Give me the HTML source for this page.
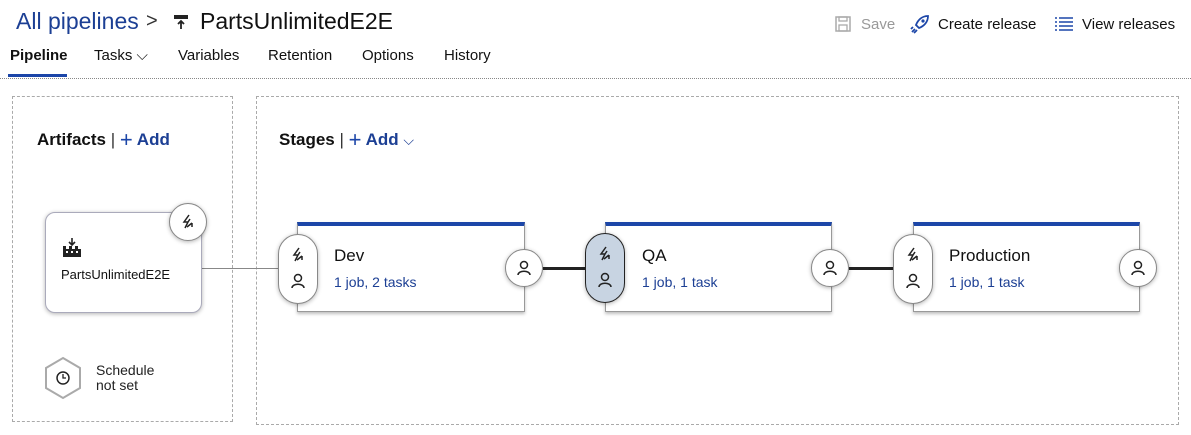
<!DOCTYPE html>
<html><head><meta charset="utf-8"><style>
*{margin:0;padding:0;box-sizing:border-box}
body{width:1191px;height:435px;background:#fff;font-family:"Liberation Sans",sans-serif;position:relative;overflow:hidden;color:#111}
.a{position:absolute;white-space:nowrap}
.dash{position:absolute;border:1.5px dashed #aaa}
.stage{position:absolute;top:222px;height:90px;background:#fff;border:1px solid #999;border-top:4px solid #1c46a8;box-shadow:0 2px 3px rgba(0,0,0,.25)}
.pill{position:absolute;width:40px;height:70px;border-radius:20px;background:#fff;border:1px solid #888;box-shadow:0 1px 4px rgba(0,0,0,.3)}
.circ{position:absolute;width:38px;height:38px;border-radius:50%;background:#fff;border:1px solid #888;box-shadow:0 1px 4px rgba(0,0,0,.3)}
.name{font-size:17px;color:#111}
.sub{font-size:14px;color:#1c3f94}
.conn{position:absolute;height:3px;background:#222;top:267px}
</style></head><body>
<svg width="0" height="0" style="position:absolute"><defs>
<symbol id="bolt" viewBox="0 0 16 16"><path d="M9 1 L4 8 L8 8 L5 14 M10 5 L8 8 M7 13 L12 9 M12 9 L12 13" fill="none" stroke="#222" stroke-width="1.5"/></symbol>
<symbol id="user" viewBox="0 0 16 16"><circle cx="8" cy="5" r="3.5" fill="none" stroke="#222" stroke-width="1.5"/><path d="M2 15 C2 10 14 10 14 15" fill="none" stroke="#222" stroke-width="1.5"/></symbol>
</defs></svg>

<div class="a" style="left:16px;top:8px;font-size:23px;color:#1c3f94">All pipelines</div>
<div class="a" style="left:146px;top:10px;font-size:20px;color:#333">&gt;</div>
<svg class="a" style="left:173px;top:14px" width="16" height="16"><rect x="1" y="1" width="14" height="4" fill="#222"/><path d="M8 15V7M5 10l3-3 3 3" fill="none" stroke="#222" stroke-width="1.8"/></svg>
<div class="a" style="left:200px;top:8px;font-size:23px;color:#111">PartsUnlimitedE2E</div>

<svg class="a" style="left:835px;top:16px" width="16" height="16"><rect x="1" y="1" width="14" height="14" fill="none" stroke="#aaa" stroke-width="1.5"/><rect x="4" y="9" width="8" height="6" fill="none" stroke="#aaa" stroke-width="1.3"/><rect x="4" y="1" width="8" height="4" fill="none" stroke="#aaa" stroke-width="1.3"/></svg>
<div class="a" style="left:861px;top:16px;font-size:15px;color:#999">Save</div>
<svg class="a" style="left:910px;top:14px" width="20" height="20"><path d="M18 2 C12 2 8 6 6 11 L9 14 C14 12 18 8 18 2Z" fill="none" stroke="#1c46a8" stroke-width="1.8"/><circle cx="13" cy="7" r="1.6" fill="#1c46a8"/><path d="M5 15 L2 18 M7 16 L4 19 M3 13 L1 15" stroke="#1c46a8" stroke-width="1.8"/></svg>
<div class="a" style="left:938px;top:16px;font-size:15px">Create release</div>
<svg class="a" style="left:1055px;top:17px" width="18" height="14"><path d="M0 1h2M0 5h2M0 9h2M0 13h2M4 1h14M4 5h14M4 9h14M4 13h14" stroke="#1c46a8" stroke-width="1.6"/></svg>
<div class="a" style="left:1082px;top:16px;font-size:15px">View releases</div>

<div class="a" style="left:10px;top:47px;font-size:15px;font-weight:bold">Pipeline</div>
<div style="position:absolute;left:8px;top:74px;width:59px;height:3px;background:#1c46a8"></div>
<div class="a" style="left:94px;top:47px;font-size:15px">Tasks ⌵</div>
<div class="a" style="left:178px;top:47px;font-size:15px">Variables</div>
<div class="a" style="left:268px;top:47px;font-size:15px">Retention</div>
<div class="a" style="left:362px;top:47px;font-size:15px">Options</div>
<div class="a" style="left:444px;top:47px;font-size:15px">History</div>
<div style="position:absolute;left:0;top:78px;width:1191px;border-top:1px dotted #888"></div>

<div class="dash" style="left:12px;top:96px;width:221px;height:326px"></div>
<div class="dash" style="left:256px;top:96px;width:923px;height:329px"></div>

<div class="a" style="left:37px;top:127px;font-size:17px;font-weight:bold">Artifacts <span style="font-weight:normal;color:#333">|</span> <span style="color:#1c46a8;font-weight:normal;font-size:22px;vertical-align:-2px">+</span> <span style="color:#1c3f94">Add</span></div>
<div class="a" style="left:279px;top:127px;font-size:17px;font-weight:bold">Stages <span style="font-weight:normal;color:#333">|</span> <span style="color:#1c46a8;font-weight:normal;font-size:22px;vertical-align:-2px">+</span> <span style="color:#1c3f94">Add</span> <span style="font-weight:normal;color:#1c3f94;font-size:14px">⌵</span></div>

<div style="position:absolute;left:202px;top:268px;width:76px;height:1px;background:#888"></div>
<div style="position:absolute;left:45px;top:212px;width:157px;height:101px;border-radius:10px;border:1px solid #aab;background:#fff;box-shadow:0 1px 4px rgba(0,0,0,.3)"></div>
<svg class="a" style="left:62px;top:238px" width="20" height="20"><path d="M10 0v7M7 4l3 3 3-3" fill="none" stroke="#222" stroke-width="1.6"/><path d="M1 19V8h3v3h3V8h3v3h3V8h3v3h3v8z" fill="#222"/><rect x="4" y="13" width="2" height="2" fill="#fff"/><rect x="9" y="13" width="2" height="2" fill="#fff"/><rect x="14" y="13" width="2" height="2" fill="#fff"/></svg>
<div class="a" style="left:61px;top:267px;font-size:13px">PartsUnlimitedE2E</div>
<div class="circ" style="left:169px;top:203px"><svg width="16" height="16" style="margin:10px"><use href="#bolt"/></svg></div>

<svg class="a" style="left:44px;top:356px" width="38" height="44"><polygon points="19,2 36,12 36,32 19,42 2,32 2,12" fill="#fff" stroke="#aaa" stroke-width="2"/><circle cx="19" cy="22" r="6" fill="none" stroke="#222" stroke-width="1.5"/><path d="M19 18v4h3" fill="none" stroke="#222" stroke-width="1.3"/></svg>
<div class="a" style="left:96px;top:363px;font-size:14px;line-height:15px;color:#222">Schedule<br>not set</div>

<div class="conn" style="left:543px;width:43px"></div>
<div class="conn" style="left:849px;width:45px"></div>

<div class="stage" style="left:297px;width:228px"></div>
<div class="pill" style="left:278px;top:234px"><svg width="16" height="16" style="position:absolute;left:11px;top:12px"><use href="#bolt"/></svg><svg width="16" height="16" style="position:absolute;left:11px;top:38px"><use href="#user"/></svg></div>
<div class="a name" style="left:334px;top:246px">Dev</div>
<div class="a sub" style="left:334px;top:274px">1 job, 2 tasks</div>
<div class="circ" style="left:505px;top:249px"><svg width="16" height="16" style="margin:10px"><use href="#user"/></svg></div>

<div class="stage" style="left:605px;width:227px"></div>
<div class="pill" style="left:585px;top:233px;background:#c8d4e2;border:1.5px solid #222"><svg width="16" height="16" style="position:absolute;left:11px;top:12px"><use href="#bolt"/></svg><svg width="16" height="16" style="position:absolute;left:11px;top:38px"><use href="#user"/></svg></div>
<div class="a name" style="left:642px;top:246px">QA</div>
<div class="a sub" style="left:642px;top:274px">1 job, 1 task</div>
<div class="circ" style="left:811px;top:249px"><svg width="16" height="16" style="margin:10px"><use href="#user"/></svg></div>

<div class="stage" style="left:913px;width:227px"></div>
<div class="pill" style="left:893px;top:234px"><svg width="16" height="16" style="position:absolute;left:11px;top:12px"><use href="#bolt"/></svg><svg width="16" height="16" style="position:absolute;left:11px;top:38px"><use href="#user"/></svg></div>
<div class="a name" style="left:949px;top:246px">Production</div>
<div class="a sub" style="left:949px;top:274px">1 job, 1 task</div>
<div class="circ" style="left:1119px;top:249px"><svg width="16" height="16" style="margin:10px"><use href="#user"/></svg></div>
</body></html>
